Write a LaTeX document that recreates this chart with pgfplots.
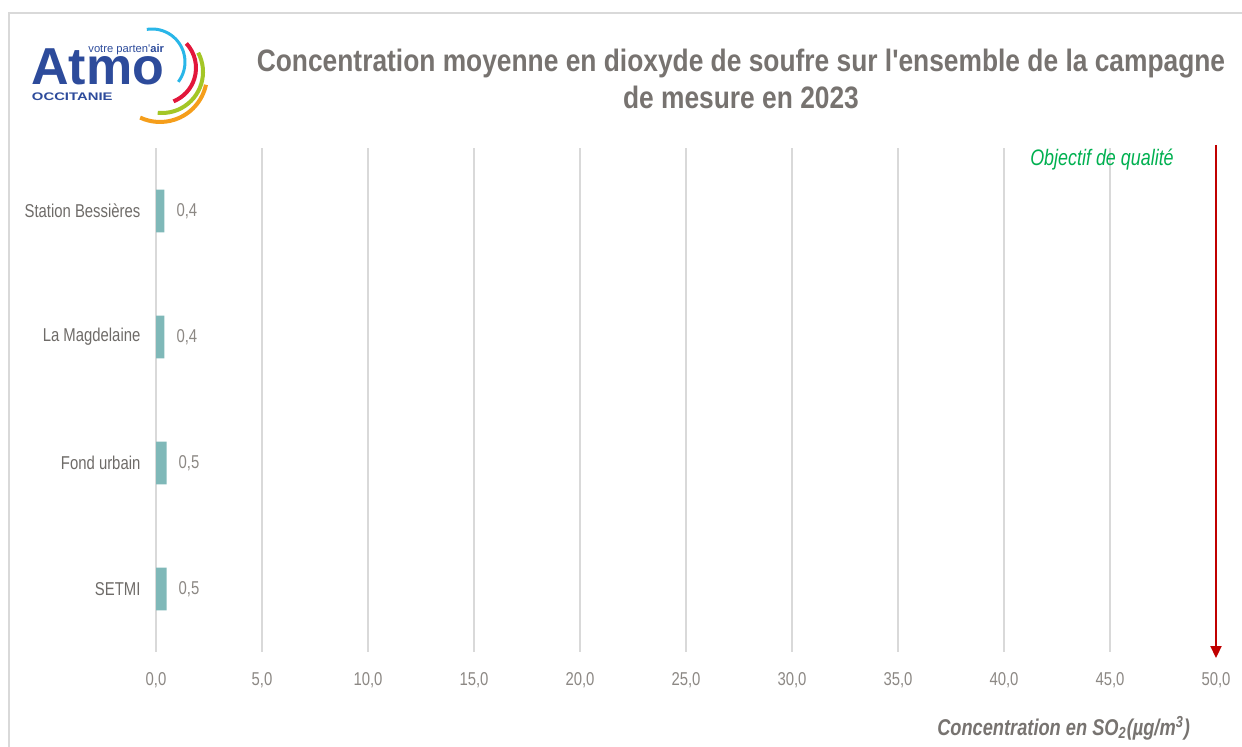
\documentclass[border=0pt]{standalone}
\usepackage{fontspec}
\setmainfont{Liberation Sans}[FakeStretch=0.8]
\newfontfamily\titlefont{Liberation Sans}[FakeStretch=0.85, Ligatures=TeXOff]
\newfontfamily\logofont{Liberation Sans}
\newfontfamily\logowide{Liberation Sans}[FakeStretch=1.35]
\usepackage{pgfplots}
\pgfplotsset{compat=1.18}
\usetikzlibrary{arrows.meta}
\definecolor{gridc}{HTML}{D9D9D9}
\definecolor{barc}{HTML}{7FB8B8}
\definecolor{titlec}{HTML}{777370}
\definecolor{tickc}{HTML}{8C8884}
\definecolor{catc}{HTML}{6E6B68}
\definecolor{redc}{HTML}{C00000}
\definecolor{greenc}{HTML}{00B050}
\definecolor{logob}{HTML}{2D4B9B}
\definecolor{arcc}{HTML}{29B6E8}
\definecolor{arcr}{HTML}{E2173B}
\definecolor{arcg}{HTML}{A4C626}
\definecolor{arco}{HTML}{F59E1B}
\begin{document}
\begin{tikzpicture}
\path[use as bounding box] (0,0) rectangle (621pt,373.5pt);
\draw[gridc, line width=1pt] (4.5pt,-1pt) -- (4.5pt,367pt) -- (622pt,367pt);
% logo
\node[anchor=base west, inner sep=0, text=logob, font=\logofont\fontsize{26}{26}\selectfont\bfseries] at (15.5pt,331pt) {Atmo};
\node[anchor=base west, inner sep=0, text=logob, font=\logowide\fontsize{5.5}{6}\selectfont\bfseries] at (15.8pt,323pt) {OCCITANIE};
\node[anchor=base west, inner sep=0, text=logob, font=\logofont\fontsize{5.6}{6}\selectfont] at (44pt,347pt) {votre parten'\textbf{air}};
\draw[arcc, line width=1.5pt] ([shift={(99:16.5pt)}]76pt,342.5pt) arc[start angle=99, end angle=-37, radius=16.5pt];
\draw[arcr, line width=2pt] ([shift={(43:18pt)}]80pt,339.5pt) arc[start angle=43, end angle=-68, radius=18pt];
\draw[arcg, line width=2pt] ([shift={(28:20.5pt)}]81pt,337.5pt) arc[start angle=28, end angle=-96, radius=20.5pt];
\draw[arco, line width=2pt] ([shift={(-12:23.5pt)}]80pt,336pt) arc[start angle=-12, end angle=-115, radius=23.5pt];
% title
\node[align=center, text=titlec, font=\titlefont\fontsize{15.5}{18.5}\selectfont\bfseries] at (370.5pt,334.25pt)
  {Concentration moyenne en dioxyde de soufre sur l'ensemble de la campagne\\de mesure en 2023};
\begin{axis}[
  at={(78pt,47.5pt)}, anchor=south west,
  width=530pt, height=252pt, scale only axis,
  xmin=0, xmax=50, ymin=-0.5, ymax=3.5,
  clip=false,
  axis line style={draw=none},
  major tick style={draw=none},
  xmajorgrids, grid style={gridc, line width=1pt},
  xtick={0,5,...,50},
  ytick={0,1,2,3},
  yticklabels={SETMI,Fond urbain,La Magdelaine,Station Bessières},
  xticklabel={\pgfmathprintnumber[fixed,fixed zerofill,precision=1,use comma]{\tick}},
  /pgf/number format/assume math mode=true,
  xticklabel style={text=tickc, font=\fontsize{9.3}{11}\selectfont, yshift=-6.5pt},
  yticklabel style={text=catc, font=\fontsize{9.3}{11}\selectfont, xshift=0pt},
  xbar, bar width=0.34,
  nodes near coords={\pgfmathprintnumber[fixed,fixed zerofill,precision=1,use comma]{\pgfplotspointmeta}},
  point meta=x,
  every node near coord/.append style={text=tickc, font=\fontsize{9.3}{11}\selectfont, xshift=2.5pt},
]
\addplot[fill=barc, draw=none] coordinates {(0.5,0) (0.5,1) (0.4,2) (0.4,3)};
\draw[redc, line width=1pt, -{Triangle[length=6pt,width=5.5pt]}] (axis cs:50,3.524) -- (axis cs:50,-0.548);
\end{axis}
\node[text=greenc, font=\fontsize{11.2}{13}\selectfont\itshape] at (551pt,293.5pt) {Objectif de qualité};
\node[anchor=east, text=titlec, font=\fontsize{11.4}{13}\selectfont\bfseries\itshape] at (598.5pt,9.5pt) {Concentration en SO\textsubscript{2}(µg/m\textsuperscript{3})};
\end{tikzpicture}
\end{document}
